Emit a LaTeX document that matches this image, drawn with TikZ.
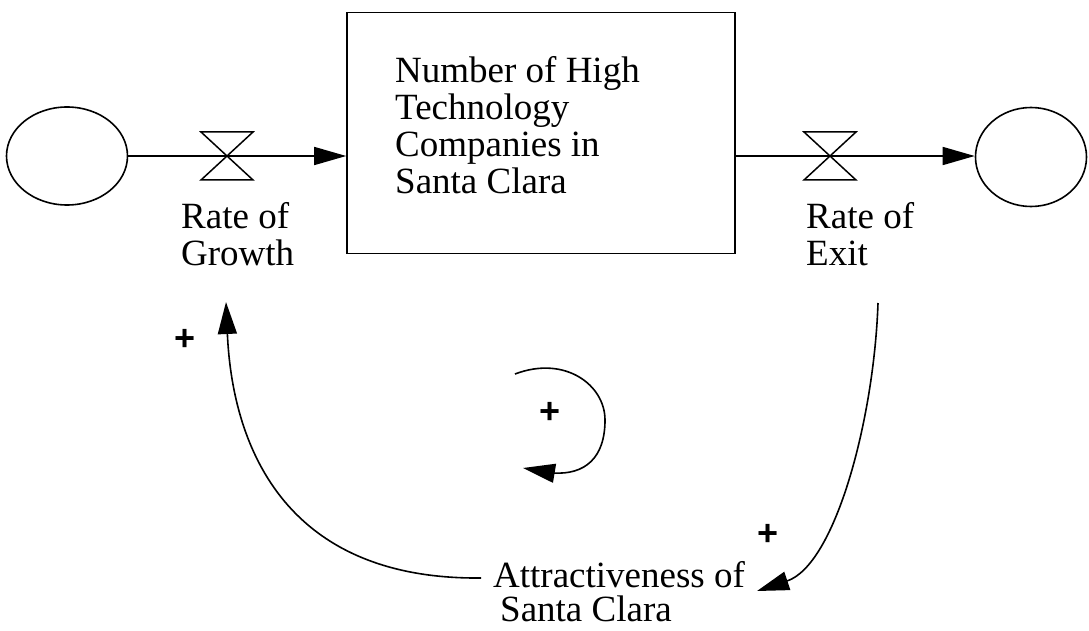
\documentclass[tikz,border=0pt]{standalone}
\usepackage{fontspec}
\setmainfont{Liberation Serif}
\newfontfamily\signfont{Liberation Sans}
\usetikzlibrary{arrows.meta,shapes.geometric}
\begin{document}
\begin{tikzpicture}[x=1pt,y=-1pt,
  every node/.style={font=\fontsize{37}{37}\selectfont},
  line/.style={line width=1.6pt},
  flow/.style={line, -{Triangle[length=32pt,width=18pt]}},
  link/.style={line, -{Triangle[length=32pt,width=19pt]}},
  cloud/.style={draw, line, ellipse, inner sep=0pt},
  label/.style={inner sep=0pt, align=left, anchor=north west},
  sign/.style={inner sep=0pt, font=\signfont\bfseries\fontsize{36}{36}\selectfont},
  valve/.pic={\draw[line width=1.5pt, line join=miter]
      (-26,-24) -- (26,-24) -- (-26,24) -- (26,24) -- cycle;}]
  \useasboundingbox (0,0) rectangle (1089,631);

  % sources, sink and the stock
  \node[cloud, minimum width=121pt, minimum height=98pt] (src) at (67,156) {};
  \node[cloud, minimum width=111pt, minimum height=99pt] (sink) at (1031,157) {};
  \node[draw, line, minimum width=388pt, minimum height=241pt] (stock) at (541,133) {};
  \node[label] (stocktext) at (395,56)
        {Number of High\\Technology\\Companies in\\Santa Clara};

  % flow pipes and their valves
  \coordinate (v1) at (227,156);
  \coordinate (v2) at (830,156);
  \draw[flow] (src.east |- v1) -- (v1 -| stock.west);
  \draw[flow] (stock.east |- v2) -- (v2 -| sink.west);
  \pic at (v1) {valve};
  \pic at (v2) {valve};

  % labels
  \node[label] (growth) at (181,202) {Rate of\\Growth};
  \node[label] (exit) at (806,202) {Rate of\\Exit};
  \node[label, font=\fontsize{37}{34}\selectfont] (attr) at (493,561)
        {Attractiveness of\\\hspace*{7pt}Santa Clara};

  % causal link end points
  \coordinate (growthIn) at (226,302);
  \coordinate (exitOut) at (878,303);
  \coordinate (attrIn) at (757,591);
  \coordinate (attrOut) at (481,578);

  \draw[link] (exitOut) .. controls (874,420) and (835,565) .. (attrIn);
  \draw[link] (attrOut) .. controls (280,580) and (232,440) .. (growthIn);

  % loop polarity
  \coordinate (loopA) at (515,374);
  \coordinate (loopTip) at (523,468);
  \draw[link] (loopA) .. controls (565,355) and (605,385) .. (605,420)
              .. controls (605,458) and (585,475) .. (553,473) -- (loopTip);

  \node[sign] (p1) at (185,340) {+};
  \node[sign] (p2) at (768,535) {+};
  \node[sign] (p3) at (550,413) {+};
\end{tikzpicture}
\end{document}
